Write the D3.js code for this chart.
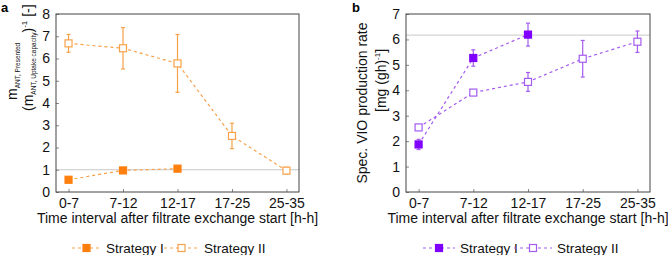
<!DOCTYPE html>
<html>
<head>
<meta charset="utf-8">
<script src="https://cdn.jsdelivr.net/npm/d3@7"></script>
<style>
  body { margin: 0; background: #fff; }
  svg { font-family: "Liberation Sans", Arial, sans-serif; }
  .tick line { stroke: #888; }
  .domain { display: none; }
</style>
</head>
<body>
<svg id="chart" width="668" height="255"></svg>
<script>
// categories
const intervals = ["0-7", "7-12", "12-17", "17-25", "25-35"];

// panel a: m_ANT presented / uptake capacity
const antStrategy1 = [0.55, 0.97, 1.05];
const antStrategy1Err = [0.05, 0.05, 0.05];
const antStrategy2 = [6.68, 6.46, 5.78, 2.52, 0.96];
const antStrategy2Err = [0.40, 0.93, 1.30, 0.57, 0.15];
const antReference = 1;
const antTicks = [0, 1, 2, 3, 4, 5, 6, 7, 8];

// panel b: specific VIO production rate
const vioStrategy1 = [1.87, 5.27, 6.19];
const vioStrategy1Err = [0.20, 0.32, 0.45];
const vioStrategy2 = [2.54, 3.91, 4.33, 5.24, 5.91];
const vioStrategy2Err = [0.08, 0.10, 0.37, 0.72, 0.42];
const vioReference = 6.17;
const vioTicks = [0, 1, 2, 3, 4, 5, 6, 7];

const legendNames = ["Strategy I", "Strategy II"];

let svg = d3.select("#chart");

function drawPanel(p)
{
    let g = svg.append("g");

    let xScale = d3.scalePoint()
        .domain(intervals)
        .range([p.left, p.right])
        .padding(0.23);

    let yScale = d3.scaleLinear()
        .domain([0, d3.max(p.ticks)])
        .range([p.bottom, p.top]);

    //Reference line
    g.append("line")
        .attr("x1", p.left).attr("x2", p.right)
        .attr("y1", yScale(p.ref)).attr("y2", yScale(p.ref))
        .attr("stroke", "#c8c8c8").attr("stroke-width", 1);

    //Axes with inward ticks
    let yAxis = g.append("g")
        .attr("transform", "translate(" + p.left + ",0)")
        .call(d3.axisLeft(yScale).tickValues(p.ticks).tickFormat(d3.format("d"))
            .tickSizeInner(-3).tickSizeOuter(0).tickPadding(6));
    yAxis.selectAll("text").style("font-size", "14px").attr("fill", "#111");

    let xAxis = g.append("g")
        .attr("transform", "translate(0," + p.bottom + ")")
        .call(d3.axisBottom(xScale).tickSizeInner(-3).tickSizeOuter(0).tickPadding(6));
    xAxis.selectAll("text").style("font-size", "14px").attr("fill", "#111");

    g.append("rect")
        .attr("x", p.left).attr("y", p.top)
        .attr("width", p.right - p.left).attr("height", p.bottom - p.top)
        .attr("fill", "none").attr("stroke", "#444").attr("stroke-width", 1);

    //Series
    p.series.forEach((s) => {
        let pts = s.values.map((v, i) => ({x: intervals[i], y: v, e: s.err[i]}));

        let line = d3.line()
            .x(d => xScale(d.x))
            .y(d => yScale(d.y));

        g.append("path")
            .datum(pts)
            .attr("d", line)
            .attr("fill", "none")
            .attr("stroke", p.lineColor)
            .attr("stroke-width", 1.2)
            .attr("stroke-dasharray", "3,3");

        let eb = g.selectAll(null).data(pts).enter().append("g");
        eb.append("line")
            .attr("x1", d => xScale(d.x)).attr("x2", d => xScale(d.x))
            .attr("y1", d => yScale(d.y - d.e)).attr("y2", d => yScale(d.y + d.e))
            .attr("stroke", p.lineColor).attr("stroke-width", 1.2);
        [-1, 1].forEach((sgn) => {
            eb.append("line")
                .attr("x1", d => xScale(d.x) - 2).attr("x2", d => xScale(d.x) + 2)
                .attr("y1", d => yScale(d.y + sgn * d.e)).attr("y2", d => yScale(d.y + sgn * d.e))
                .attr("stroke", p.lineColor).attr("stroke-width", 1.2);
        });

        g.selectAll(null).data(pts).enter().append("rect")
            .attr("x", d => xScale(d.x) - 3.5)
            .attr("y", d => yScale(d.y) - 3.5)
            .attr("width", 7).attr("height", 7)
            .attr("fill", s.filled ? p.markColor : "#fff")
            .attr("stroke", s.filled ? p.markColor : p.lineColor)
            .attr("stroke-width", 1.2);
    });

    //X axis title
    g.append("text")
        .attr("x", (p.left + p.right) / 2)
        .attr("y", 223)
        .attr("text-anchor", "middle")
        .style("font-size", "14px")
        .attr("fill", "#111")
        .text("Time interval after filtrate exchange start [h-h]");

    //Panel letter
    g.append("text")
        .attr("x", p.letterX).attr("y", 12)
        .style("font-size", "13px").style("font-weight", "bold")
        .text(p.letter);

    //Legend
    p.legend.forEach((l, i) => {
        let lg = g.append("g");
        lg.append("line")
            .attr("x1", l.x0).attr("x2", l.x1)
            .attr("y1", 248).attr("y2", 248)
            .attr("stroke", p.lineColor).attr("stroke-width", 1.2)
            .attr("stroke-dasharray", "3,3");
        lg.append("rect")
            .attr("x", (l.x0 + l.x1) / 2 - 3.5).attr("y", 248 - 3.5)
            .attr("width", 7).attr("height", 7)
            .attr("fill", i == 0 ? p.markColor : "#fff")
            .attr("stroke", i == 0 ? p.markColor : p.lineColor)
            .attr("stroke-width", 1.2);
        lg.append("text")
            .attr("x", l.x1 + 5).attr("y", 253)
            .style("font-size", "13.5px")
            .attr("fill", "#111")
            .text(legendNames[i]);
    });

    return g;
}

let gA = drawPanel({
    left: 56, right: 299, top: 14, bottom: 192,
    ticks: antTicks, ref: antReference,
    lineColor: "#f7a24a", markColor: "#ff7f0e",
    letter: "a", letterX: 1,
    series: [
        {values: antStrategy1, err: antStrategy1Err, filled: true},
        {values: antStrategy2, err: antStrategy2Err, filled: false}
    ],
    legend: [{x0: 72, x1: 101}, {x0: 164, x1: 199}]
});

let gB = drawPanel({
    left: 406, right: 650, top: 14, bottom: 192,
    ticks: vioTicks, ref: vioReference,
    lineColor: "#a45cf0", markColor: "#8000ff",
    letter: "b", letterX: 352,
    series: [
        {values: vioStrategy1, err: vioStrategy1Err, filled: true},
        {values: vioStrategy2, err: vioStrategy2Err, filled: false}
    ],
    legend: [{x0: 423, x1: 455}, {x0: 514, x1: 552}]
});

//Y axis title, panel a (two lines with sub/superscripts)
let ya1 = gA.append("text")
    .attr("transform", "translate(17,100) rotate(-90)")
    .style("font-size", "14px").attr("fill", "#111");
ya1.append("tspan").text("m");
ya1.append("tspan").attr("dy", 3).style("font-size", "6.5px").text("ANT, Presented");

let ya2 = gA.append("text")
    .attr("transform", "translate(33,111) rotate(-90)")
    .style("font-size", "14px").attr("fill", "#111");
ya2.append("tspan").text("(m");
ya2.append("tspan").attr("dy", 3).style("font-size", "6.5px").text("ANT, Uptake capacity");
ya2.append("tspan").attr("dy", -3).text(")");
ya2.append("tspan").attr("dy", -6).style("font-size", "8px").text("-1");
ya2.append("tspan").attr("dy", 6).text(" [-]");

//Y axis title, panel b
gB.append("text")
    .attr("transform", "translate(367,103) rotate(-90)")
    .attr("text-anchor", "middle")
    .style("font-size", "14px").attr("fill", "#111")
    .text("Spec. VIO production rate");

let yb2 = gB.append("text")
    .attr("transform", "translate(386,112) rotate(-90)")
    .style("font-size", "14px").attr("fill", "#111");
yb2.append("tspan").text("[mg (gh)");
yb2.append("tspan").attr("dy", -6).style("font-size", "8px").text("-1");
yb2.append("tspan").attr("dy", 6).text("]");
</script>
</body>
</html>
